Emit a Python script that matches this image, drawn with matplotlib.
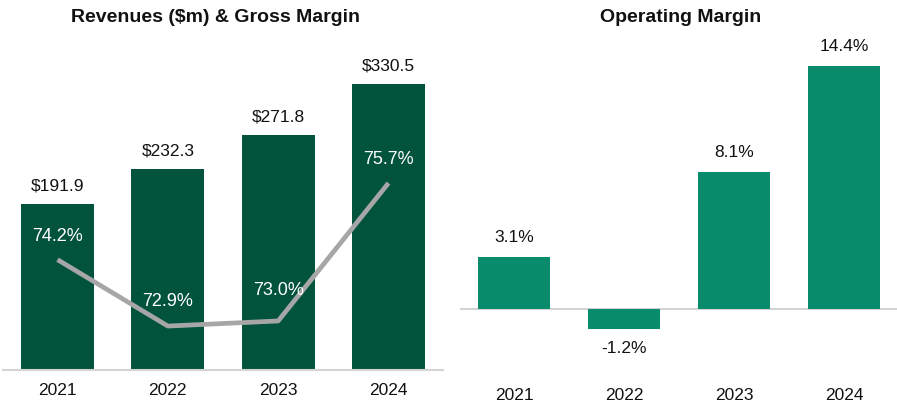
import numpy as np
import matplotlib
matplotlib.use("Agg")
import matplotlib.pyplot as plt

plt.rcParams['font.family'] = ['Liberation Sans', 'DejaVu Sans']

years = ["2021", "2022", "2023", "2024"]
revenue = [191.9, 232.3, 271.8, 330.5]
gross_margin = [74.2, 72.9, 73.0, 75.7]
op_margin = [3.1, -1.2, 8.1, 14.4]

DARK_GREEN = '#02533c'
MID_GREEN = '#098c6c'
LINE_GRAY = '#a6a6a6'
AXIS_GRAY = '#d4d4d4'

fig = plt.figure(figsize=(8.97, 4.11), dpi=100)
W, H = 897, 411

def px_axes(left, top, right, bottom):
    return fig.add_axes([left / W, 1 - bottom / H, (right - left) / W, (bottom - top) / H])

x = np.arange(len(years))

# ---- left panel: revenues + gross margin line
ax1 = px_axes(3, 40, 443, 370)
ax1.bar(x, revenue, width=0.66, color=DARK_GREEN, zorder=2)
ax1.set_xlim(-0.494, 3.494)
ax1.set_ylim(0, 381.5)
for xi, v in zip(x, revenue):
    ax1.annotate(f"${v:.1f}", (xi, v), xytext=(0, 13), textcoords='offset points',
                 ha='center', va='center', fontsize=12.5, color='#111111')

ax1b = ax1.twinx()
ax1b.set_ylim(72.04, 78.5)
ax1b.plot(x, gross_margin, color=LINE_GRAY, linewidth=3.4, solid_capstyle='butt', zorder=3)
gm_offsets = [17, 18, 22, 17]
for xi, v, off in zip(x, gross_margin, gm_offsets):
    ax1b.annotate(f"{v:.1f}%", (xi, v), xytext=(0, off), textcoords='offset points',
                  ha='center', va='center', fontsize=13, color='white', zorder=4)

# ---- right panel: operating margin
ax2 = px_axes(460, 40, 897, 370)
ax2.bar(x, op_margin, width=0.66, color=MID_GREEN, zorder=2)
ax2.set_xlim(-0.491, 3.482)
ax2.set_ylim(-3.61, 15.92)
ax2.axhline(0, color=AXIS_GRAY, linewidth=1.5, zorder=1)
for xi, v in zip(x, op_margin):
    off = 14 if v >= 0 else -14
    ax2.annotate(f"{v:.1f}%", (xi, v), xytext=(0, off), textcoords='offset points',
                 ha='center', va='center', fontsize=12.5, color='#111111')

for ax in (ax1, ax1b, ax2):
    for s in ax.spines.values():
        s.set_visible(False)
    ax.set_yticks([])
    ax.patch.set_visible(False)

ax1.spines['bottom'].set_visible(True)
ax1.spines['bottom'].set_color(AXIS_GRAY)
ax1.spines['bottom'].set_linewidth(1.5)
ax1.set_xticks(x, years)
ax1.tick_params(axis='x', length=0, pad=9, labelsize=12.5, labelcolor='#111111')
ax2.set_xticks(x, years)
ax2.tick_params(axis='x', length=0, pad=13, labelsize=12.5, labelcolor='#111111')

fig.text(215 / W, 1 - 18 / H, "Revenues ($m) & Gross Margin", ha='center', va='center',
         fontsize=14, fontweight='bold', color='#111111')
fig.text(681 / W, 1 - 18 / H, "Operating Margin", ha='center', va='center',
         fontsize=14, fontweight='bold', color='#111111')

fig.savefig("out.png", dpi=100, facecolor='white')
